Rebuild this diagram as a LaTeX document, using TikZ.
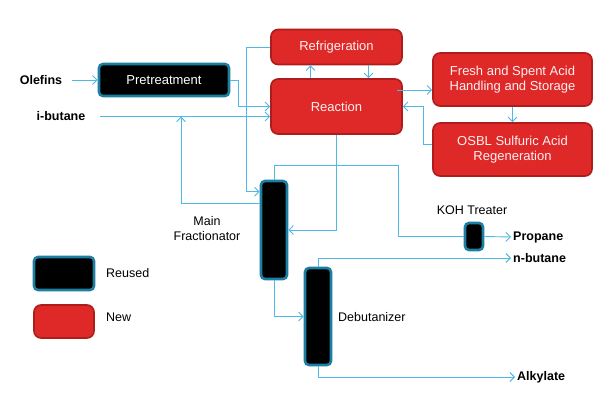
\documentclass[tikz,border=0pt]{standalone}
\usepackage{fontspec}
\setmainfont{Liberation Sans}
\usetikzlibrary{arrows.meta, positioning, calc}
\definecolor{flowblue}{HTML}{4FB8E6}
\definecolor{reuseedge}{HTML}{1C7FA2}
\definecolor{newred}{HTML}{DF2828}
\definecolor{newedge}{HTML}{AE1C1C}

\begin{document}
\begin{tikzpicture}[x=1pt, y=-1pt,
  pipe/.style={draw=flowblue, line width=0.9pt},
  flow/.style={pipe, -{Straight Barb[length=4.5pt,width=9pt]}},
  reused/.style={draw=reuseedge, fill=black, line width=2.6pt, rounded corners=4pt,
                 inner sep=0pt, text=white, font=\fontsize{13}{15}\selectfont},
  new/.style={draw=newedge, fill=newred, line width=1.6pt, rounded corners=7pt,
              inner sep=0pt, text=white!94!red, align=center, font=\fontsize{13}{15.5}\selectfont},
  lbl/.style={font=\fontsize{12.5}{15}\selectfont, inner sep=2pt},
  stream/.style={font=\bfseries\fontsize{12.5}{15}\selectfont, inner sep=2pt}]
  \useasboundingbox[fill=white] (0,0) rectangle (597,407);

  % units
  \node[reused, minimum width=130pt, minimum height=32pt] (pre) at (164,80) {Pretreatment};
  \node[new, minimum width=131pt, minimum height=35pt] (refr) at (336.5,47) {Refrigeration};
  \node[new, minimum width=131pt, minimum height=55pt] (rxn) at (336.5,106.5) {Reaction};
  \node[new, minimum width=159pt, minimum height=53pt] (acid) at (512.5,79.5)
    {Fresh and Spent Acid\\Handling and Storage};
  \node[new, minimum width=159pt, minimum height=53pt] (osbl) at (512.5,149.5)
    {OSBL Sulfuric Acid\\Regeneration};
  \node[reused, minimum width=26pt, minimum height=98pt] (mf) at (274,230) {};
  \node[reused, minimum width=26pt, minimum height=97pt] (deb) at (318,316.5) {};
  \node[reused, minimum width=18pt, minimum height=27pt] (koh) at (474,236.5) {};

  % labels and streams
  \node[stream] (olefins) at (41,80) {Olefins};
  \node[stream] (ibutane) at (61,116.5) {i-butane};
  \node[stream, anchor=west] (propane) at (511,237) {Propane};
  \node[stream, anchor=west] (nbutane) at (511,258) {n-butane};
  \node[stream, anchor=west] (alkylate) at (515,377) {Alkylate};
  \node[lbl, align=center] (mflbl) at (207,228.5) {Main\\Fractionator};
  \node[lbl, anchor=west] (deblbl) at (336,317) {Debutanizer};
  \node[lbl] (kohlbl) at (472,210) {KOH Treater};

  % legend
  \node[reused, minimum width=60pt, minimum height=33pt] (legold) at (64,273.5) {};
  \node[new, minimum width=60pt, minimum height=33pt] (legnew) at (64,321.5) {};
  \node[lbl, anchor=west] (legoldlbl) at (104,273) {Reused};
  \node[lbl, anchor=west] (legnewlbl) at (104,317) {New};

  % connectors
  \coordinate (join) at (181,116.5);
  \draw[flow, shorten <=8pt] (olefins.east) -- (pre.west);
  \draw[flow, shorten <=12pt] (ibutane.east) -- (ibutane.east -| rxn.west);
  \draw[flow] (pre.east) -- ++(8,0) |- (rxn.west);
  \draw[flow] (refr.west) -- ++(-24,0) |- ([yshift=-12pt]mf.north west);
  \draw[flow] ([yshift=-24pt]mf.north west) -| (join);
  \draw[flow] ([xshift=-26pt]rxn.north) -- ([xshift=-26pt]refr.south);
  \draw[flow] ([xshift=32pt]refr.south) -- ([xshift=32pt]rxn.north);
  \draw[flow] ([yshift=16.5pt,xshift=-6pt]rxn.east) -- ([yshift=16.5pt]rxn.east -| acid.west);
  \draw[flow] (acid.south) -- (osbl.north);
  \draw[flow] ([yshift=5.5pt]osbl.west) -- ++(-9,0) |- (rxn.east);
  \draw[flow] (rxn.south) |- (mf.east);
  \draw[pipe] (mf.north) -- ++(0,-14) -| (398,236.5) -- (koh.west);
  \draw[flow] (koh.east) -- (propane.west);
  \draw[flow] (mf.south) |- (deb.west);
  \draw[flow] (deb.north) |- (nbutane.west);
  \draw[flow] (deb.south) |- (alkylate.west);
\end{tikzpicture}
\end{document}
